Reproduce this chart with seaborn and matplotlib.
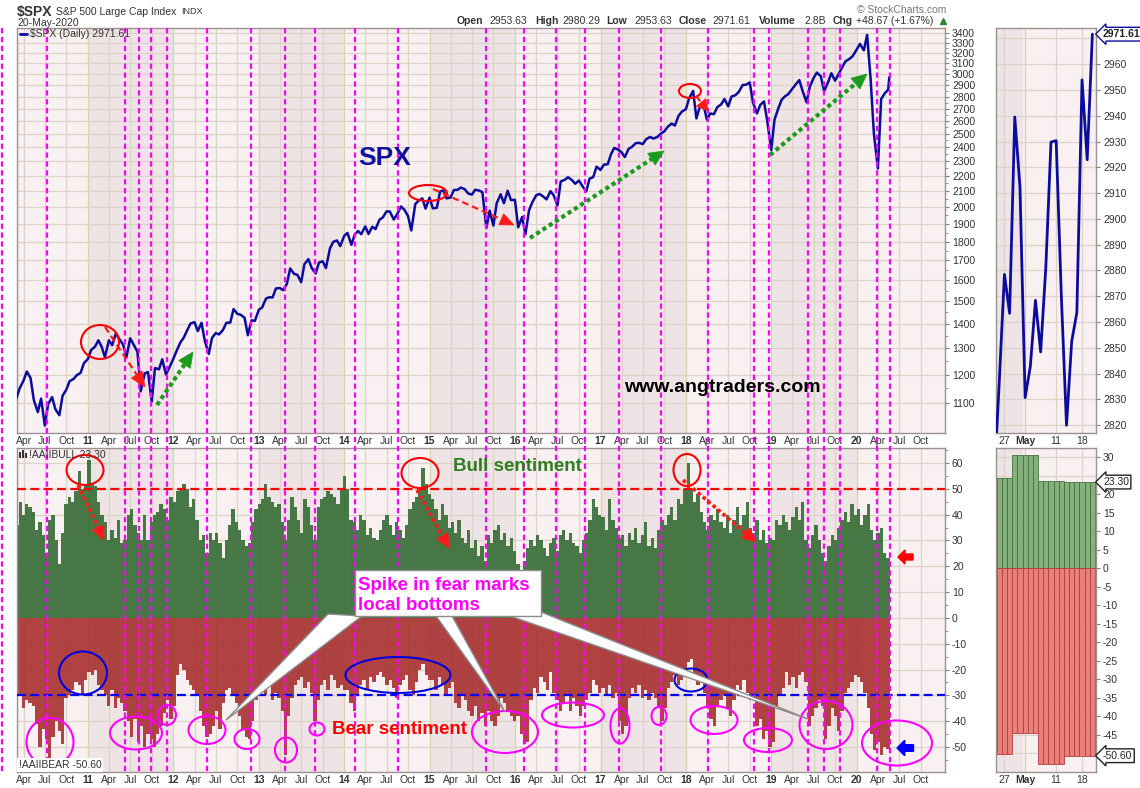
import numpy as np
import pandas as pd
import matplotlib
matplotlib.use("Agg")
import matplotlib.pyplot as plt
import matplotlib.ticker as mticker
import matplotlib.transforms as mtransforms
from matplotlib.lines import Line2D
from matplotlib.patches import Ellipse, Rectangle, Polygon
import seaborn as sns

sns.set_style("white")
plt.rcParams['font.family'] = ['Liberation Sans', 'DejaVu Sans']
plt.rcParams['axes.unicode_minus'] = False

W, H = 1140, 788

# ---- SPX, semi-monthly readings (1st and 15th), Mar 2010 .. May 2020 ----
spx_2010 = [1115, 1150, 1178, 1211, 1187, 1110, 1070, 1115, 1027, 1096,
            1120, 1080, 1060, 1125, 1146, 1176, 1184, 1198, 1206, 1242]
spx_2011 = [1258, 1293, 1307, 1332, 1306, 1265, 1332, 1312, 1361, 1338, 1314, 1266,
            1340, 1316, 1286, 1140, 1204, 1209, 1105, 1224, 1219, 1257, 1200, 1225]
spx_2012 = [1258, 1289, 1324, 1343, 1374, 1402, 1408, 1370, 1405, 1330, 1278, 1342,
            1362, 1356, 1375, 1405, 1406, 1465, 1444, 1440, 1427, 1353, 1416, 1413]
spx_2013 = [1462, 1472, 1513, 1519, 1518, 1560, 1562, 1552, 1582, 1658, 1631, 1626,
            1590, 1680, 1706, 1661, 1633, 1688, 1695, 1660, 1762, 1798, 1806, 1775]
spx_2014 = [1831, 1848, 1782, 1838, 1859, 1841, 1885, 1842, 1883, 1870, 1924, 1937,
            1973, 1973, 1925, 1955, 2003, 1984, 1946, 1862, 2018, 2039, 2053, 1990]
spx_2015 = [2058, 1992, 1995, 2096, 2104, 2053, 2059, 2106, 2108, 2122, 2111, 2084,
            2077, 2108, 2103, 2092, 1875, 1978, 1890, 2023, 2079, 2023, 2102, 2043]
spx_2016 = [2044, 1880, 1940, 1840, 1978, 2028, 2073, 2081, 2065, 2047, 2099, 2072,
            2010, 2162, 2173, 2190, 2171, 2147, 2168, 2133, 2097, 2180, 2191, 2262]
spx_2017 = [2239, 2275, 2279, 2350, 2395, 2385, 2363, 2329, 2388, 2402, 2430, 2432,
            2423, 2459, 2476, 2464, 2476, 2500, 2519, 2553, 2579, 2564, 2642, 2675]
spx_2018 = [2695, 2786, 2850, 2620, 2713, 2750, 2610, 2660, 2654, 2711, 2735, 2780,
            2718, 2800, 2813, 2840, 2901, 2904, 2924, 2750, 2660, 2730, 2760, 2600]
spx_2019 = [2380, 2610, 2706, 2775, 2803, 2822, 2867, 2905, 2945, 2850, 2752, 2886,
            2964, 3013, 2980, 2847, 2926, 3007, 2940, 2995, 3066, 3120, 3141, 3168]
spx_2020 = [3231, 3289, 3225, 3380, 2954, 2500, 2250, 2780, 2830, 2860]
spx_last_date, spx_last = '2020-05-20', 2971.61

# ---- AAII bull / bear %, bi-weekly readings from 25-Feb-2010 ----
bull_2010 = [36, 45, 40, 44, 43, 41, 34, 37, 32, 25, 38, 40, 30, 21, 33, 44, 47, 45, 49, 57, 50, 52, 61]
bull_2011 = [52, 51, 45, 40, 37, 30, 34, 31, 38, 29, 30, 40, 42, 36, 33, 30, 40, 30, 37, 40, 41, 44, 42, 38, 47, 45]
bull_2012 = [49, 50, 52, 50, 43, 46, 38, 30, 32, 25, 33, 30, 33, 29, 23, 30, 36, 42, 37, 34, 30, 28, 29, 37, 42, 44]
bull_2013 = [46, 52, 47, 45, 43, 44, 37, 30, 38, 47, 43, 38, 33, 46, 43, 36, 30, 43, 46, 47, 49, 48, 47, 44, 50, 55]
bull_2014 = [50, 38, 37, 34, 40, 38, 32, 35, 31, 30, 34, 38, 40, 36, 32, 37, 34, 31, 36, 42, 45, 47, 50, 58, 52, 48]
bull_2015 = [46, 42, 38, 44, 40, 35, 37, 33, 38, 31, 29, 34, 27, 30, 24, 28, 22, 32, 29, 34, 36, 30, 33, 28, 31, 26]
bull_2016 = [21, 18, 22, 27, 30, 28, 32, 30, 27, 24, 29, 31, 26, 32, 34, 30, 33, 29, 28, 25, 30, 33, 38, 46, 43, 40]
bull_2017 = [39, 34, 46, 38, 35, 31, 32, 28, 33, 30, 35, 29, 32, 37, 28, 31, 27, 34, 38, 36, 40, 43, 38, 46, 44, 50]
bull_2018 = [60, 50, 45, 48, 41, 37, 34, 40, 38, 42, 37, 35, 40, 33, 38, 43, 36, 40, 45, 35, 33, 38, 30, 34, 29, 31]
bull_2019 = [30, 38, 36, 40, 37, 34, 39, 43, 38, 45, 30, 27, 32, 36, 30, 25, 22, 28, 32, 30, 35, 38, 41, 37, 44, 40]
bull_2020 = [42, 36, 40, 44, 34, 30, 33, 35, 25, 23.3]

bear_2010 = [30, 30, 35, 32, 33, 34, 41, 50, 43, 47, 56, 46, 40, 44, 49, 31, 30, 28, 25, 26, 30, 24, 21]
bear_2011 = [22, 20, 26, 28, 30, 34, 28, 35, 31, 33, 36, 40, 46, 39, 48, 42, 50, 45, 47, 50, 45, 42, 37, 32, 39, 34]
bear_2012 = [22, 18, 20, 24, 26, 28, 30, 36, 42, 46, 45, 42, 36, 43, 33, 28, 27, 30, 33, 38, 43, 46, 47, 40, 32, 29]
bear_2013 = [27, 30, 26, 32, 29, 31, 36, 53, 38, 31, 26, 24, 23, 27, 25, 29, 40, 32, 26, 24, 28, 22, 24, 27, 26, 28]
bear_2014 = [28, 33, 36, 30, 26, 24, 28, 23, 25, 22, 21, 23, 26, 24, 27, 31, 26, 24, 22, 28, 30, 25, 20, 18, 22, 24]
bear_2015 = [24, 28, 23, 26, 30, 27, 25, 33, 35, 30, 32, 36, 38, 34, 40, 37, 42, 36, 40, 42, 38, 31, 33, 36, 38, 40]
bear_2016 = [38, 45, 49, 48, 32, 27, 29, 23, 25, 28, 21, 29, 32, 36, 33, 30, 36, 31, 34, 38, 34, 32, 29, 24, 26, 29]
bear_2017 = [27, 30, 26, 31, 29, 40, 45, 42, 31, 27, 29, 26, 31, 28, 32, 29, 31, 34, 40, 35, 27, 25, 22, 26, 24, 20]
bear_2018 = [17, 16, 24, 26, 23, 29, 34, 39, 42, 34, 32, 30, 35, 38, 32, 26, 28, 24, 29, 32, 30, 42, 39, 47, 44, 50]
bear_2019 = [48, 34, 30, 27, 21, 26, 23, 27, 22, 21, 25, 42, 38, 35, 32, 34, 47, 42, 35, 38, 44, 36, 29, 27, 25, 22]
bear_2020 = [23, 25, 29, 35, 45, 51, 48, 53, 50, 50.6]

# ---- last month, daily ----
zoom_days = ['Apr 23', 'Apr 24', 'Apr 27', 'Apr 28', 'Apr 29', 'Apr 30', 'May 1', 'May 4',
             'May 5', 'May 6', 'May 7', 'May 8', 'May 11', 'May 12', 'May 13', 'May 14',
             'May 15', 'May 18', 'May 19', 'May 20']
zoom_close = [2797.80, 2836.74, 2878.48, 2863.39, 2939.51, 2912.43, 2830.71, 2842.74,
              2868.44, 2848.42, 2881.19, 2929.80, 2930.32, 2870.12, 2820.00, 2852.50,
              2863.70, 2953.91, 2922.94, 2971.61]
zoom_week_start = [0, 4, 9, 14]
zoom_bull = [24.5, 30.5, 23.6, 23.3]
zoom_bear = [50.2, 44.4, 52.9, 50.6]

# vertical marker dates (bear sentiment spikes)
marker_dates = ['2009-12-29', '2010-07-09', '2011-06-08', '2011-08-07', '2011-09-27',
                '2011-12-04', '2012-05-23', '2012-11-27', '2013-04-22', '2013-08-28',
                '2014-02-16', '2014-08-18', '2015-08-29', '2016-02-08', '2016-06-24',
                '2016-10-27', '2017-03-22', '2017-09-17', '2018-04-06', '2018-10-19',
                '2018-12-23', '2019-06-07', '2019-08-14', '2019-10-22', '2020-03-28',
                '2020-05-23']

# ---- assemble ----
spx_vals = (spx_2010 + spx_2011 + spx_2012 + spx_2013 + spx_2014 + spx_2015 +
            spx_2016 + spx_2017 + spx_2018 + spx_2019 + spx_2020)
spx_dates = list(pd.date_range('2010-03-01', periods=len(spx_vals), freq='SMS'))
spx = pd.DataFrame({'date': spx_dates + [pd.Timestamp(spx_last_date)],
                    'close': spx_vals + [spx_last]})

bull = np.array(bull_2010 + bull_2011 + bull_2012 + bull_2013 + bull_2014 + bull_2015 +
                bull_2016 + bull_2017 + bull_2018 + bull_2019 + bull_2020)
bear = np.array(bear_2010 + bear_2011 + bear_2012 + bear_2013 + bear_2014 + bear_2015 +
                bear_2016 + bear_2017 + bear_2018 + bear_2019 + bear_2020)
bull_dates = pd.date_range('2010-02-25', periods=len(bull), freq='14D')
bear_dates = pd.date_range('2010-02-25', periods=len(bear), freq='14D')

counts = np.diff(zoom_week_start + [len(zoom_close)])
zb = np.repeat(zoom_bull, counts)
zr = -np.repeat(zoom_bear, counts)
zx = np.arange(len(zoom_close))

# ---- colours ----
NAVY = '#0c0c9c'
LIGHT = '#f8f0f1'
DARK = '#eee4e5'
GRID = '#ddd3c9'
YGRID = '#d8d3a6'
FRAME = '#9c9090'
MAG = '#ff00ff'
TXT = '#333333'

fig = plt.figure(figsize=(W / 100, H / 100), dpi=100)
fig.patch.set_facecolor('white')

ax_main = fig.add_axes([17 / W, 1 - 433 / H, 928 / W, 405 / H])
ax_sent = fig.add_axes([17 / W, 1 - 772 / H, 928 / W, 324 / H])
ax_rt = fig.add_axes([996 / W, 1 - 433 / H, 100 / W, 405 / H])
ax_rb = fig.add_axes([996 / W, 1 - 772 / H, 100 / W, 324 / H])

def style(ax):
    ax.set_facecolor(LIGHT)
    for s in ax.spines.values():
        s.set_color(FRAME)
        s.set_linewidth(1)
    ax.yaxis.tick_right()
    ax.tick_params(axis='y', which='both', right=True, left=False, labelsize=7.5,
                   labelcolor=TXT, color='#8a7f7f', length=3, pad=2)
    ax.tick_params(axis='y', which='minor', length=2)
    ax.tick_params(axis='x', labelsize=7.5, labelcolor=TXT, length=0, pad=2)
    ax.set_xlabel('')
    ax.set_ylabel('')

# ---- date axes (main + sentiment) ----
xmin, xmax = pd.Timestamp('2010-03-04'), pd.Timestamp('2021-01-13')
qticks = pd.date_range('2010-04-01', '2020-10-01', freq='QS')
qlabels = [f"{t.year % 100:02d}" if t.month == 1 else t.strftime('%b') for t in qticks]

for ax in (ax_main, ax_sent):
    for yr in (2011, 2013, 2015, 2017, 2019):
        ax.axvspan(pd.Timestamp(f'{yr}-01-01'), pd.Timestamp(f'{yr + 1}-01-01'),
                   color=DARK, lw=0, zorder=0)
    for t in qticks:
        ax.axvline(t, color=YGRID if t.month == 1 else GRID, lw=0.9, zorder=0.5)

# main price panel
main_ticks = list(range(1100, 3500, 100))
for v in main_ticks:
    ax_main.axhline(v, color=GRID, lw=0.9, zorder=0.5)
sns.lineplot(data=spx, x='date', y='close', ax=ax_main, color=NAVY, lw=1.8, zorder=3)
ax_main.set_yscale('log')
ax_main.set_ylim(1004, 3452)
ax_main.set_xlim(xmin, xmax)
style(ax_main)
ax_main.yaxis.set_major_locator(mticker.FixedLocator(main_ticks))
ax_main.yaxis.set_major_formatter(mticker.FuncFormatter(lambda v, p: f'{v:.0f}'))
ax_main.yaxis.set_minor_locator(mticker.FixedLocator([v + 50 for v in main_ticks[:-1]]))
ax_main.yaxis.set_minor_formatter(mticker.NullFormatter())

# sentiment panel
for v in range(-50, 70, 10):
    ax_sent.axhline(v, color=GRID, lw=0.9, zorder=0.5)
ax_sent.bar(bull_dates, bull, width=14, align='edge', color='#30682f', alpha=0.88, lw=0, zorder=2)
ax_sent.bar(bear_dates, -bear, width=14, align='edge', color='#a62a2a', alpha=0.88, lw=0, zorder=2)
ax_sent.axhline(50, color='#ff0000', lw=1.6, dashes=(4, 2), zorder=4)
ax_sent.axhline(-30, color='#0000ff', lw=1.6, dashes=(4, 2), zorder=4)
ax_sent.set_ylim(-59.7, 65.8)
ax_sent.set_xlim(xmin, xmax)
style(ax_sent)
ax_sent.set_yticks(range(-50, 70, 10))
ax_sent.yaxis.set_minor_locator(mticker.FixedLocator(range(-55, 70, 10)))

for ax in (ax_main, ax_sent):
    ax.set_xticks(qticks)
    ax.set_xticklabels(qlabels)
    for lab, t in zip(ax.get_xticklabels(), qticks):
        if t.month == 1:
            lab.set_fontweight('bold')

# ---- right zoom panels ----
zl = (0.37, 19.7)
for ax in (ax_rt, ax_rb):
    ax.axvspan(zl[0], 5.5, color=DARK, lw=0, zorder=0)
    for t in (2, 6, 12, 17):
        ax.axvline(t, color=YGRID if t == 6 else GRID, lw=0.9, zorder=0.5)

rt_ticks = list(range(2820, 2970, 10))
for v in rt_ticks + [2970]:
    ax_rt.axhline(v, color=GRID, lw=0.9, zorder=0.5)
sns.lineplot(x=zx, y=zoom_close, ax=ax_rt, color=NAVY, lw=2, zorder=3)
ax_rt.set_xlim(*zl)
ax_rt.set_ylim(2817, 2974)
style(ax_rt)
ax_rt.set_yticks(rt_ticks)

# labels at 25 and -50 sit under the value boxes, as in the source chart
rb_ticks = [v for v in range(-45, 35, 5) if v != 25]
for v in range(-50, 35, 5):
    ax_rb.axhline(v, color=GRID, lw=0.9, zorder=0.5)
ax_rb.bar(zx, zb, width=1.0, color='#7fae77', edgecolor='#3f6f3c', lw=0.6, alpha=0.95, zorder=2)
ax_rb.bar(zx, zr, width=1.0, color='#e97a74', edgecolor='#b23c3c', lw=0.6, alpha=0.95, zorder=2)
ax_rb.set_xlim(*zl)
ax_rb.set_ylim(-55, 32.5)
style(ax_rb)
ax_rb.set_yticks(rb_ticks)

for ax in (ax_rt, ax_rb):
    ax.set_xticks([2, 6, 12, 17])
    ax.set_xticklabels(['27', 'May', '11', '18'])
    ax.get_xticklabels()[1].set_fontweight('bold')

def value_box(ax, val, text, ec):
    tr = mtransforms.blended_transform_factory(ax.transAxes, ax.transData)
    ax.text(1.07, val, text, transform=tr, ha='left', va='center', fontsize=7.5,
            fontweight='bold' if ec == NAVY else 'normal', color='#222',
            bbox=dict(boxstyle='larrow,pad=0.18', fc='white', ec=ec, lw=1),
            clip_on=False, zorder=6)

value_box(ax_rt, 2971.61, '2971.61', NAVY)
value_box(ax_rb, 23.3, '23.30', '#222')
value_box(ax_rb, -50.6, '-50.60', '#222')

# ---- figure-level annotations ----
def P(x, y):
    return (x / W, 1 - y / H)

mtr = mtransforms.blended_transform_factory(ax_main.transData, fig.transFigure)
for d in marker_dates:
    xd = matplotlib.dates.date2num(pd.Timestamp(d))
    fig.add_artist(Line2D([xd, xd], [1 - 28 / H, 1 - 772 / H], transform=mtr, color=MAG,
                          lw=1.6, dashes=(2.4, 1.6), zorder=2))

def arrow(x0, y0, x1, y1, color, lw, dashes, hl, hw):
    dx, dy = x1 - x0, y1 - y0
    L = np.hypot(dx, dy)
    ux, uy = dx / L, dy / L
    bx, by = x1 - ux * hl, y1 - uy * hl
    nx, ny = -uy, ux
    fig.add_artist(Line2D([x0 / W, bx / W], [1 - y0 / H, 1 - by / H], transform=fig.transFigure,
                          color=color, lw=lw, dashes=dashes, zorder=6))
    pts = [(x1, y1), (bx + nx * hw / 2, by + ny * hw / 2), (bx - nx * hw / 2, by - ny * hw / 2)]
    fig.add_artist(Polygon([P(*p) for p in pts], closed=True, transform=fig.transFigure,
                           fc=color, ec=color, lw=0.5, zorder=6))

RED = '#ff1a1a'
GREEN = '#1c9a1c'
arrow(105, 327, 145, 387, RED, 1.6, (3, 1.8), 15, 13)
arrow(157, 405, 193, 352, GREEN, 3, (1, 0.8), 15, 14)
arrow(433, 189, 514, 225, RED, 1.6, (3, 1.8), 14, 12)
arrow(530, 238, 664, 151, GREEN, 3, (1, 0.8), 15, 14)
arrow(696, 96, 708, 111, RED, 1.6, (3, 1.8), 11, 12)
arrow(770, 155, 867, 74, GREEN, 3, (1, 0.8), 15, 14)
arrow(78, 485, 104, 540, RED, 2.6, (1, 0.8), 14, 13)
arrow(417, 490, 449, 548, RED, 2.6, (1, 0.8), 14, 13)
arrow(683, 480, 756, 542, RED, 2.6, (1, 0.8), 14, 13)

def block_arrow(x, y, color, s):
    pts = [(x, y), (x + 7 * s, y - 7 * s), (x + 7 * s, y - 3 * s), (x + 15 * s, y - 3 * s),
           (x + 15 * s, y + 3 * s), (x + 7 * s, y + 3 * s), (x + 7 * s, y + 7 * s)]
    fig.add_artist(Polygon([P(*p) for p in pts], closed=True, transform=fig.transFigure,
                           fc=color, ec=color, zorder=6))

block_arrow(898, 557, '#ff0000', 1.0)
block_arrow(897, 748, '#0000ff', 1.1)

ellipses = [
    (100, 342, 38, 34, '#ff0000'), (428, 193, 38, 16, '#ff0000'), (690, 91, 22, 14, '#ff0000'),
    (85, 470, 37, 30, '#ff0000'), (420, 473, 37, 30, '#ff0000'), (687, 470, 27, 32, '#ff0000'),
    (83, 673, 48, 43, '#0000dd'), (398, 675, 105, 36, '#0000dd'), (691, 680, 33, 23, '#0000dd'),
    (50, 742, 47, 48, MAG), (136, 733, 52, 33, MAG), (167, 715, 18, 20, MAG),
    (207, 730, 37, 28, MAG), (247, 739, 25, 20, MAG), (286, 750, 22, 25, MAG),
    (317, 729, 15, 13, MAG), (505, 732, 66, 42, MAG), (573, 715, 62, 25, MAG),
    (620, 726, 19, 35, MAG), (659, 716, 15, 18, MAG), (714, 720, 47, 28, MAG),
    (768, 740, 48, 24, MAG), (826, 725, 53, 48, MAG), (897, 743, 70, 45, MAG),
]
for cx, cy, w, h, c in ellipses:
    fig.add_artist(Ellipse(P(cx, cy), w / W, h / H, transform=fig.transFigure, fill=False,
                           ec=c, lw=1.5, zorder=5))

# callout
for pts in ([(328, 614), (362, 616), (226, 720)],
            [(436, 616), (452, 616), (505, 712)],
            [(510, 616), (541, 612), (808, 719)]):
    fig.add_artist(Polygon([P(*p) for p in pts], closed=True, transform=fig.transFigure,
                           fc='white', ec='#8c8c8c', lw=1, zorder=7))
fig.add_artist(Rectangle(P(355, 616), 186 / W, 46 / H, transform=fig.transFigure,
                         fc='white', ec='#8c8c8c', lw=1, zorder=7))
fig.text(*P(358, 585), 'Spike in fear marks', color=MAG, fontsize=13.5, fontweight='bold',
         va='center', zorder=8)
fig.text(*P(358, 606), 'local bottoms', color=MAG, fontsize=13.5, fontweight='bold',
         va='center', zorder=8)

fig.text(*P(385, 158), 'SPX', color='#10109a', fontsize=19, fontweight='bold',
         ha='center', va='center')
fig.text(*P(722, 388), 'www.angtraders.com', color='black', fontsize=14, fontweight='bold',
         ha='center', va='center')
fig.text(*P(517, 466), 'Bull sentiment', color='#2f7f1f', fontsize=13.5, fontweight='bold',
         ha='center', va='center', zorder=8)
fig.text(*P(400, 729), 'Bear sentiment', color='#ff0000', fontsize=13.5, fontweight='bold',
         ha='center', va='center', zorder=8)

# header
fig.text(*P(17, 12), r'\$SPX', fontsize=10, fontweight='bold', color=TXT, va='center')
fig.text(*P(56, 12), 'S&P 500 Large Cap Index', fontsize=7.5, color=TXT, va='center')
fig.text(*P(181, 12), 'INDX', fontsize=6.5, color=TXT, va='center')
fig.text(*P(17, 23), '20-May-2020', fontsize=7.5, color=TXT, va='center')
fig.text(*P(946, 10), '\u00a9 StockCharts.com', fontsize=7.5, color='#777', va='center', ha='right')
header = [('Open', 457, True), ('2953.63', 489, False), ('High', 535, True), ('2980.29', 562, False),
          ('Low', 606, True), ('2953.63', 634, False), ('Close', 679, True), ('2971.61', 712, False),
          ('Volume', 759, True), ('2.8B', 804, False), ('Chg', 833, True), ('+48.67 (+1.67%)', 856, False)]
for txt, x, b in header:
    fig.text(*P(x, 21), txt, fontsize=7.5, fontweight='bold' if b else 'normal', color=TXT, va='center')
fig.add_artist(Line2D([943 / W], [1 - 21 / H], transform=fig.transFigure, marker='^',
                      color='#2a8a2a', markersize=5, lw=0))

# panel legends
fig.add_artist(Line2D([20 / W, 27 / W], [1 - 34 / H] * 2, transform=fig.transFigure, color=NAVY, lw=2))
fig.text(*P(30, 34), r'\$SPX (Daily) 2971.61', fontsize=7.5, color=TXT, va='center', zorder=8)
for bx, bh in ((19, 6), (22, 8), (25, 5)):
    fig.add_artist(Rectangle(P(bx, 458), 2 / W, bh / H, transform=fig.transFigure,
                             fc='#333', lw=0, zorder=8))
fig.text(*P(29, 455), '!AAIIBULL 23.30', fontsize=7.5, color=TXT, va='center', zorder=8)
fig.text(*P(19, 765), '!AAIIBEAR -50.60', fontsize=7.5, color=TXT, va='center', zorder=8,
         bbox=dict(boxstyle='square,pad=0.15', fc='white', ec='none'))

fig.savefig('out.png', dpi=100)
